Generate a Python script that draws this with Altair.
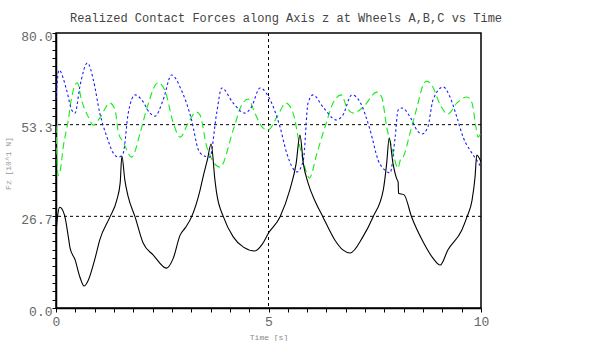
import altair as alt
import pandas as pd

# ---- data ----
black_t = [0, 0.04, 0.09, 0.2, 0.29, 0.33, 0.45, 0.56, 0.66, 0.76, 0.92, 1.03, 1.27, 1.43, 1.51, 1.55,
           1.62, 1.7, 1.86, 2.05, 2.29, 2.6, 2.76, 2.92, 3.04, 3.19, 3.39, 3.46, 3.56, 3.65, 3.74, 3.78,
           3.94, 4.17, 4.41, 4.68, 4.85, 5.0, 5.27, 5.5, 5.65, 5.74, 5.82, 5.93, 6.1, 6.28, 6.56, 6.75,
           6.92, 7.22, 7.46, 7.7, 7.78, 7.84, 7.93, 8.02, 8.05, 8.06, 8.19, 8.37, 8.64, 8.87, 9.04, 9.22,
           9.55, 9.67, 9.79, 9.86, 9.9, 10]
black_v = [22, 27, 29.3, 27, 20.7, 17.5, 14, 9.1, 6.4, 8.1, 14.5, 19.8, 26.5, 31.4, 36.4, 44.2,
           37.2, 32.3, 26.5, 18.9, 15.4, 11.6, 14.5, 21.2, 23.3, 26.5, 34.3, 38.1, 43, 47.7, 37.2, 33.4,
           26.5, 20.7, 17.7, 16.6, 18.5, 21.8, 26.5, 34.3, 42, 50.3, 42, 36.4, 31, 26.5, 19.8, 16.9,
           16, 20.7, 26.5, 34.3, 42, 49.5, 42, 37.5, 36.7, 33.4, 32.9, 26.4, 19.2, 14.5, 12.5, 16.9,
           22.7, 26.5, 31.4, 38.1, 44.5, 42.5]

green_t = [0, 0.02, 0.05, 0.1, 0.17, 0.29, 0.37, 0.5, 0.6, 0.76, 0.88, 1.03, 1.27, 1.39, 1.47, 1.58,
           1.78, 1.98, 2.14, 2.4, 2.56, 2.76, 2.92, 3.11, 3.3, 3.39, 3.55, 3.86, 4.17, 4.37, 4.52, 4.68,
           4.87, 4.99, 5.2, 5.41, 5.58, 5.74, 5.9, 5.96, 6.14, 6.33, 6.53, 6.71, 6.85, 7.0, 7.23, 7.55,
           7.67, 7.78, 7.9, 8.05, 8.1, 8.17, 8.33, 8.49, 8.64, 8.72, 8.84, 9.04, 9.22, 9.43, 9.67, 9.79,
           9.88, 9.93, 10]
green_v = [53, 45, 38.5, 40, 46.8, 54.7, 61.4, 65.5, 60.5, 55.6, 53.2, 55.3, 59.6, 57.6, 50.9, 48.3,
           43.9, 50.9, 58.2, 65.5, 63.4, 53.8, 49.7, 53.8, 57, 56.1, 46.8, 41, 51.8, 59.1, 60.8, 56.7,
           52.4, 51.8, 55.6, 59.6, 56.7, 46.8, 39.3, 37.8, 45, 52.7, 59.9, 62, 58.2, 56.7, 58.5, 62.8,
           61.1, 52.7, 46.8, 40.7, 43, 43.9, 50.9, 58.2, 64.9, 66, 64.9, 59.1, 56.4, 59.6, 61.4, 59.6,
           52.7, 49.7, 51]

blue_t = [0, 0.07, 0.25, 0.37, 0.45, 0.56, 0.74, 0.88, 1.03, 1.2, 1.35, 1.47, 1.58, 1.7, 1.86, 2.02,
          2.21, 2.33, 2.52, 2.72, 2.95, 3.19, 3.35, 3.45, 3.62, 3.78, 3.9, 4.17, 4.44, 4.6, 4.8, 5.04,
          5.27, 5.43, 5.67, 5.82, 5.93, 6.05, 6.28, 6.6, 6.75, 6.96, 7.15, 7.39, 7.58, 7.74, 7.86, 7.98,
          8.05, 8.14, 8.33, 8.49, 8.61, 8.75, 8.87, 9.11, 9.27, 9.43, 9.58, 9.79, 9.9, 10]
blue_v = [61, 69.2, 63.4, 57.6, 56.7, 64.3, 71.3, 66.3, 56.7, 49.7, 45, 43.9, 45, 56.7, 62, 60.5,
          56.7, 55.8, 60.5, 67.8, 63.4, 54.7, 46, 44.5, 43.9, 56.7, 64, 59.6, 56.7, 58.5, 64, 60.5,
          52.7, 45, 39.6, 43, 59.6, 62, 58.5, 54.7, 56.1, 62, 60, 51.8, 43, 40.1, 39.3, 49.7,
          57.6, 58.2, 55.6, 51.8, 50.6, 52.7, 60.5, 64.3, 61.4, 55.6, 49.7, 45, 43, 41]

grid_y = [80 / 3, 160 / 3]
grid_x = [5]

y_ticks = [80 / 33 * k for k in range(34)]
x_ticks = [10 / 22 * k for k in range(23)]

FONT = "Courier New, Liberation Mono, monospace"

x_scale = alt.Scale(domain=[0, 10], nice=False, zero=False)
y_scale = alt.Scale(domain=[0, 80], nice=False, zero=True)

x_axis = alt.Axis(values=x_ticks, title="Time [s]", grid=False,
                  labelExpr="abs(datum.value/5 - round(datum.value/5)) < 0.01 ? '' + round(datum.value) : ''",
                  tickSize=4, labelPadding=3, labelFontSize=13, labelColor="#666", labelFont=FONT,
                  labelAngle=0, labelBaseline="top", labelFlush=False, labelOverlap=False,
                  titleFont=FONT, titleFontSize=8, titleColor="#888", titleFontWeight="normal",
                  titleBaseline="middle", titleY=29,
                  domainColor="black", tickColor="black", domainWidth=1.5, tickWidth=1)
y_axis = alt.Axis(values=y_ticks, title="Fz [10^1 N]", grid=False,
                  labelExpr="abs(datum.value/(80/3) - round(datum.value/(80/3))) < 0.01 ? format(datum.value, '.1f') : ''",
                  tickSize=4, labelPadding=0, labelFontSize=13, labelColor="#666", labelFont=FONT,
                  labelBaseline="middle", labelOffset=3, labelFlush=False, labelOverlap=False,
                  titleFont=FONT, titleFontSize=8, titleColor="#999", titleFontWeight="normal",
                  titleX=-48, titleY=130, titleAlign="center", titleBaseline="middle",
                  domainColor="black", tickColor="black", domainWidth=1.5, tickWidth=1)

df_black = pd.DataFrame({"t": black_t, "v": black_v})
df_green = pd.DataFrame({"t": green_t, "v": green_v})
df_blue = pd.DataFrame({"t": blue_t, "v": blue_v})

hgrid = alt.Chart(pd.DataFrame({"y": grid_y})).mark_rule(
    color="black", strokeDash=[3, 3], strokeWidth=1).encode(
    y=alt.Y("y:Q", scale=y_scale, axis=y_axis))
vgrid = alt.Chart(pd.DataFrame({"x": grid_x})).mark_rule(
    color="black", strokeDash=[3, 3], strokeWidth=1).encode(
    x=alt.X("x:Q", scale=x_scale, axis=x_axis))

def line(df, color, dash=None):
    kw = dict(color=color, strokeWidth=1.1, interpolate="monotone", clip=True)
    if dash is not None:
        kw["strokeDash"] = dash
    return alt.Chart(df).mark_line(**kw).encode(
        x=alt.X("t:Q", scale=x_scale, axis=x_axis),
        y=alt.Y("v:Q", scale=y_scale, axis=y_axis))

green = line(df_green, "#11ee11", [7, 4])
blue = line(df_blue, "#1a1aff", [2.5, 2.5])
black = line(df_black, "black")

chart = alt.layer(hgrid, vgrid, green, blue, black).properties(
    width=425, height=275,
    autosize=alt.AutoSizeParams(type="none"),
    padding={"left": 56, "top": 33, "right": 108, "bottom": 33},
    title=alt.TitleParams("Realized Contact Forces along Axis z at Wheels A,B,C vs Time",
                          anchor="start", frame="group", dx=14, offset=5,
                          font=FONT, fontSize=12, color="#444", fontWeight="normal"),
).configure(background="white").configure_view(stroke="black", strokeWidth=1.5)

chart.save("out.html", embed_options={"renderer": "svg", "actions": False})
